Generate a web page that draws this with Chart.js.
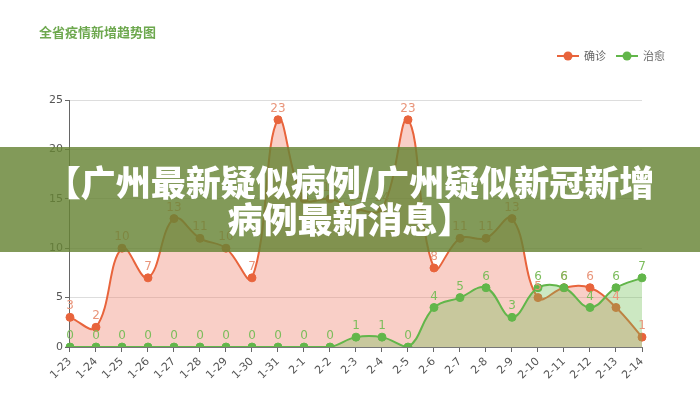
<!DOCTYPE html>
<html>
<head>
<meta charset="utf-8">
<script src="https://cdn.jsdelivr.net/npm/chart.js@4/dist/chart.umd.min.js"></script>
<style>
    body { margin: 0; background: #fff; }
    #wrap { position: relative; width: 700px; height: 400px; }
    #banner {
        position: absolute; left: 0; top: 147px; width: 700px; height: 105px;
        background: rgba(102, 132, 52, 0.82);
        color: #fff; text-align: center;
        font-family: "Noto Sans CJK SC", sans-serif; font-weight: 900;
        font-size: 35px; line-height: 37px; padding-top: 15px; box-sizing: border-box;
    }
</style>
</head>
<body>
<div id="wrap">
    <canvas id="myChart" width="700" height="400"></canvas>
    <div id="banner">【广州最新疑似病例/广州疑似新冠新增<br>病例最新消息】</div>
</div>
<script>
// 数据
var dates = ["1-23", "1-24", "1-25", "1-26", "1-27", "1-28", "1-29", "1-30", "1-31", "2-1", "2-2", "2-3",
    "2-4", "2-5", "2-6", "2-7", "2-8", "2-9", "2-10", "2-11", "2-12", "2-13", "2-14"];
var confirmed = [3, 2, 10, 7, 13, 11, 10, 7, 23, 15, 15, 14, 14, 23, 8, 11, 11, 13, 5, 6, 6, 4, 1];
var cured = [0, 0, 0, 0, 0, 0, 0, 0, 0, 0, 0, 1, 1, 0, 4, 5, 6, 3, 6, 6, 4, 6, 7];
var yTicks = [0, 5, 10, 15, 20, 25];

var red = '#e8643c';
var green = '#62b64a';

// 标题 + 图例 + 数值标签
var extras = {
    id: 'extras',
    afterDatasetsDraw: function (chart) {
        var c = chart.ctx;
        c.save();
        c.textAlign = 'center';
        c.textBaseline = 'bottom';
        c.font = '12px "DejaVu Sans", sans-serif';
        var labelColors = ['#e9957a', '#7cbd5c'];
        chart.data.datasets.forEach(function (ds, i) {
            var meta = chart.getDatasetMeta(i);
            c.fillStyle = labelColors[i];
            meta.data.forEach(function (pt, j) {
                c.fillText(ds.data[j], pt.x, pt.y - 5);
            });
        });
        // 标题
        c.textAlign = 'left';
        c.textBaseline = 'middle';
        c.font = 'bold 13px "Noto Sans CJK SC", sans-serif';
        c.fillStyle = '#6da84e';
        c.fillText('全省疫情新增趋势图', 39, 32);
        // 图例
        var items = [['确诊', red, 557], ['治愈', green, 616]];
        c.font = '11px "Noto Sans CJK SC", sans-serif';
        items.forEach(function (it) {
            var x = it[2], y = 56;
            c.strokeStyle = it[1];
            c.lineWidth = 2;
            c.beginPath();
            c.moveTo(x, y);
            c.lineTo(x + 22, y);
            c.stroke();
            c.fillStyle = it[1];
            c.beginPath();
            c.arc(x + 11, y, 4.5, 0, Math.PI * 2);
            c.fill();
            c.fillStyle = '#666';
            c.fillText(it[0], x + 27, y);
        });
        c.restore();
    }
};

var ctx = document.getElementById('myChart').getContext('2d');

var chart = new Chart(ctx, {
    type: 'line',
    data: {
        labels: dates,
        datasets: [{
            label: '确诊',
            data: confirmed,
            borderColor: red,
            backgroundColor: 'rgba(240, 128, 108, 0.38)',
            pointBackgroundColor: red,
            pointBorderColor: red,
            fill: 'origin',
            order: 2,
        },
        {
            label: '治愈',
            data: cured,
            borderColor: green,
            backgroundColor: 'rgba(110, 190, 80, 0.35)',
            pointBackgroundColor: green,
            pointBorderColor: green,
            fill: 'origin',
            order: 1,
        }]
    },
    options: {
        responsive: false,
        animation: false,
        layout: { padding: { top: 100, left: 47, right: 58, bottom: 15 } },
        elements: {
            line: { tension: 0.4, borderWidth: 2 },
            point: { radius: 4, borderWidth: 1 }
        },
        plugins: {
            legend: { display: false },
            tooltip: { enabled: false }
        },
        scales: {
            x: {
                offset: false,
                grid: { drawOnChartArea: false, color: '#666', tickLength: 5 },
                border: { color: '#777' },
                ticks: {
                    color: '#555', maxRotation: 45, minRotation: 45, autoSkip: false,
                    font: { size: 11, family: '"DejaVu Sans", sans-serif' }
                }
            },
            y: {
                min: 0, max: 25,
                afterBuildTicks: function (axis) {
                    axis.ticks = yTicks.map(function (v) { return { value: v }; });
                },
                grid: { color: '#ddd', tickColor: '#666', tickLength: 5 },
                border: { color: '#666' },
                ticks: {
                    color: '#555', padding: 2,
                    font: { size: 11, family: '"DejaVu Sans", sans-serif' }
                }
            }
        }
    },
    plugins: [extras]
});
</script>
</body>
</html>
